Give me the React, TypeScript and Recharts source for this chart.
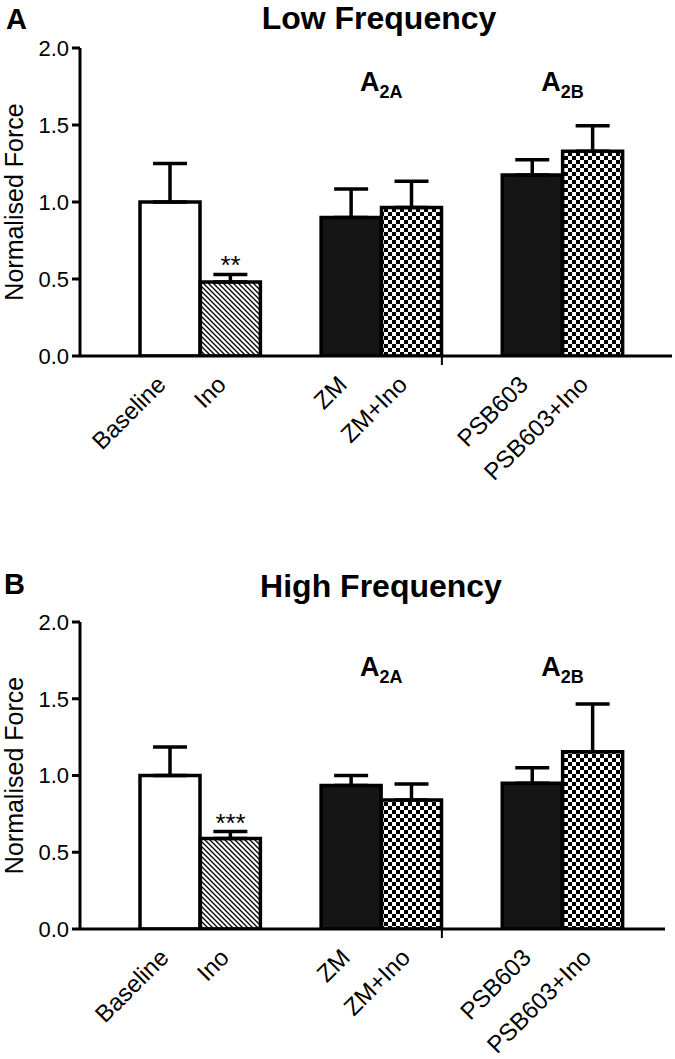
import React from 'react';
import { BarChart, Bar, XAxis, YAxis, Cell, ErrorBar, ReferenceDot } from 'recharts';

const FONT = '"Liberation Sans", Arial, Helvetica, sans-serif';

// treatments, left to right
const treatments = ['Baseline', 'Ino', 'ZM', 'ZM+Ino', 'PSB603', 'PSB603+Ino'];

// panel A - low frequency
const lowMean = [1.0, 0.48, 0.9, 0.965, 1.175, 1.33];
const lowSem = [0.25, 0.05, 0.185, 0.17, 0.1, 0.165];
const lowStars = ['', '**', '', '', '', ''];

// panel B - high frequency
const highMean = [1.0, 0.59, 0.935, 0.84, 0.95, 1.155];
const highSem = [0.185, 0.045, 0.065, 0.105, 0.1, 0.31];
const highStars = ['', '***', '', '', '', ''];

const receptors = [
  { name: 'A', sub: '2A', first: 'ZM' },
  { name: 'A', sub: '2B', first: 'PSB603' },
];

const yTicks = [0, 0.5, 1.0, 1.5, 2.0];

const FILLS = ['#ffffff', 'url(#hatch)', '#151515', 'url(#checker)', '#151515', 'url(#checker)'];

function buildRows(mean: number[], sem: number[]) {
  const rows: any[] = [];
  treatments.forEach((t, i) => {
    rows.push({ name: t, mean: mean[i], err: [0, sem[i]], idx: i });
    // spacer between drug groups
    if (i === 1) rows.push({ name: 'gap1', mean: null, err: null, idx: -1 });
    if (i === 3) rows.push({ name: 'gap2', mean: null, err: null, idx: -1 });
  });
  return rows;
}

function XTick(props: any) {
  const { x, y, payload, shift } = props;
  const v = String(payload.value);
  if (v === 'gap2') {
    // stray tick after ZM+Ino, as in the original
    const half = payload.offset ?? 30;
    return <line x1={x - half} x2={x - half} y1={y} y2={y + 9} stroke="#000" strokeWidth={2} />;
  }
  if (v.startsWith('gap')) return <g />;
  const tx = x + shift;
  const ty = y + 30;
  return (
    <text
      x={tx}
      y={ty}
      transform={`rotate(-45 ${tx} ${ty})`}
      textAnchor="end"
      fontSize={24}
      fontFamily={FONT}
      fill="#000"
    >
      {v}
    </text>
  );
}

interface PanelProps {
  top: number;
  height: number;
  marginTop: number;
  marginRight: number;
  axisHeight: number;
  padRight: number;
  labelShift: number;
  mean: number[];
  sem: number[];
  stars: string[];
  receptorLevel: number;
}

function Panel({ top, height, marginTop, marginRight, axisHeight, padRight, labelShift, mean, sem, stars, receptorLevel }: PanelProps) {
  const rows = buildRows(mean, sem);
  return (
    <div style={{ position: 'absolute', left: 0, top }}>
      <BarChart
        width={675}
        height={height}
        data={rows}
        margin={{ top: marginTop, right: marginRight, left: 0, bottom: 0 }}
        barCategoryGap={0}
        barGap={0}
      >
        <XAxis
          dataKey="name"
          type="category"
          height={axisHeight}
          padding={{ left: 60, right: padRight }}
          interval={0}
          tickLine={false}
          tickSize={0}
          tickMargin={0}
          axisLine={{ stroke: '#000', strokeWidth: 3 }}
          tick={(p: any) => <XTick {...p} shift={labelShift} />}
        />
        <YAxis
          domain={[0, 2]}
          ticks={yTicks}
          allowDataOverflow
          width={80}
          tickFormatter={(v: number) => v.toFixed(1)}
          tick={{ fontSize: 22, fill: '#000', fontFamily: FONT }}
          tickSize={8}
          tickMargin={3}
          axisLine={{ stroke: '#000', strokeWidth: 3 }}
          tickLine={{ stroke: '#000', strokeWidth: 3 }}
          label={{
            value: 'Normalised Force',
            angle: -90,
            position: 'insideLeft',
            offset: 14,
            fontSize: 25,
            fill: '#000',
            fontFamily: FONT,
            style: { textAnchor: 'middle' },
          }}
        />
        <Bar dataKey="mean" stroke="#000" strokeWidth={3.5} isAnimationActive={false}>
          {rows.map((r, i) => (
            <Cell key={i} fill={r.idx >= 0 ? FILLS[r.idx] : 'none'} />
          ))}
          <ErrorBar dataKey="err" direction="y" width={17} stroke="#000" strokeWidth={3.5} isAnimationActive={false} />
        </Bar>
        {treatments.map((t, i) =>
          stars[i] ? (
            <ReferenceDot
              key={'s' + i}
              x={t}
              y={mean[i] + sem[i]}
              r={0}
              fill="none"
              stroke="none"
              label={{ value: stars[i], position: 'top', offset: 0, fontSize: 26, fill: '#000', fontFamily: FONT }}
            />
          ) : null
        )}
        {receptors.map((g, i) => (
          <ReferenceDot
            key={'g' + i}
            x={g.first}
            y={receptorLevel}
            r={0}
            fill="none"
            stroke="none"
            label={{
              content: (p: any) => {
                const vb = p.viewBox || {};
                const cx = (vb.x ?? 0) + (vb.width ?? 0) / 2 + 30;
                const cy = (vb.y ?? 0) + (vb.height ?? 0) / 2;
                return (
                  <text x={cx} y={cy} textAnchor="middle" fontFamily={FONT} fontWeight="bold" fill="#000">
                    <tspan fontSize={27}>{g.name}</tspan>
                    <tspan fontSize={18} dy={7}>{g.sub}</tspan>
                  </text>
                );
              },
            }}
          />
        ))}
      </BarChart>
    </div>
  );
}

export default function App() {
  return (
    <div style={{ position: 'absolute', left: 0, top: 0, width: 675, height: 1059, background: '#fff', fontFamily: FONT }}>
      <svg width={0} height={0} style={{ position: 'absolute' }}>
        <defs>
          <pattern id="hatch" patternUnits="userSpaceOnUse" width={5} height={5}>
            <rect width={5} height={5} fill="#fff" />
            <path d="M0,0 L5,5 M-1.25,3.75 L1.25,6.25 M3.75,-1.25 L6.25,1.25" stroke="#000" strokeWidth={1.3} />
          </pattern>
          <pattern id="checker" patternUnits="userSpaceOnUse" width={8} height={8}>
            <rect width={8} height={8} fill="#fff" />
            <rect x={0} y={0} width={4} height={4} fill="#000" />
            <rect x={4} y={4} width={4} height={4} fill="#000" />
          </pattern>
        </defs>
      </svg>
      <Panel
        top={0}
        height={530}
        marginTop={48}
        marginRight={3}
        axisHeight={174}
        padRight={49}
        labelShift={-3}
        mean={lowMean}
        sem={lowSem}
        stars={lowStars}
        receptorLevel={1.72}
      />
      <Panel
        top={530}
        height={529}
        marginTop={92}
        marginRight={10}
        axisHeight={130}
        padRight={42}
        labelShift={0}
        mean={highMean}
        sem={highSem}
        stars={highStars}
        receptorLevel={1.65}
      />
      <svg width={675} height={1059} style={{ position: 'absolute', left: 0, top: 0, pointerEvents: 'none' }}>
        <text x={6} y={29} fontSize={29} fontWeight="bold" fill="#000" fontFamily={FONT}>A</text>
        <text x={379} y={29} fontSize={32} fontWeight="bold" fill="#000" fontFamily={FONT} textAnchor="middle">Low Frequency</text>
        <text x={4} y={594} fontSize={29} fontWeight="bold" fill="#000" fontFamily={FONT}>B</text>
        <text x={381} y={597} fontSize={32} fontWeight="bold" fill="#000" fontFamily={FONT} textAnchor="middle">High Frequency</text>
      </svg>
    </div>
  );
}
